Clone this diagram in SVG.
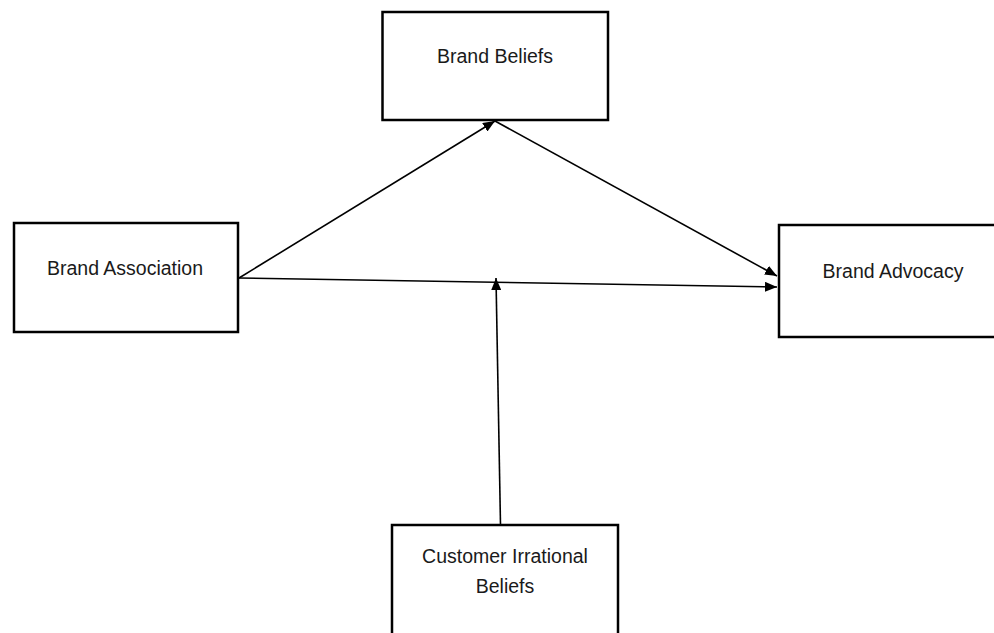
<svg xmlns="http://www.w3.org/2000/svg" width="994" height="633" viewBox="0 0 994 633">
<style>
.box{fill:#fff;stroke:#000;stroke-width:2.5}
.lbl{font-family:"Liberation Sans",Arial,sans-serif;font-size:19.5px;fill:#1a1a1a;text-anchor:middle}
.edge{stroke:#000;stroke-width:1.6;fill:none;marker-end:url(#ah)}
</style>
<defs>
<marker id="ah" viewBox="0 0 12 10" refX="12" refY="5" markerWidth="12" markerHeight="10" markerUnits="userSpaceOnUse" orient="auto">
<path d="M0,0 L12,5 L0,10 z" fill="#000"/>
</marker>
</defs>
<rect width="994" height="633" fill="#fff"/>
<g id="connectors">
<line class="edge" x1="239" y1="278" x2="495" y2="121"/>
<line class="edge" x1="495" y1="121" x2="777" y2="276"/>
<line class="edge" x1="239" y1="278" x2="777" y2="287"/>
<line class="edge" x1="500.5" y1="525" x2="496" y2="278"/>
</g>
<g id="brand-beliefs">
<rect class="box" x="382.5" y="12" width="225.5" height="108"/>
<text class="lbl" x="495" y="63">Brand Beliefs</text>
</g>
<g id="brand-association">
<rect class="box" x="14" y="223" width="224" height="109"/>
<text class="lbl" x="125" y="275">Brand Association</text>
</g>
<g id="brand-advocacy">
<rect class="box" x="779" y="225" width="230" height="112"/>
<text class="lbl" x="893" y="278">Brand Advocacy</text>
</g>
<g id="customer-irrational-beliefs">
<rect class="box" x="392" y="525" width="226" height="120"/>
<text class="lbl" x="505" y="563">Customer Irrational</text>
<text class="lbl" x="505" y="593">Beliefs</text>
</g>
</svg>
